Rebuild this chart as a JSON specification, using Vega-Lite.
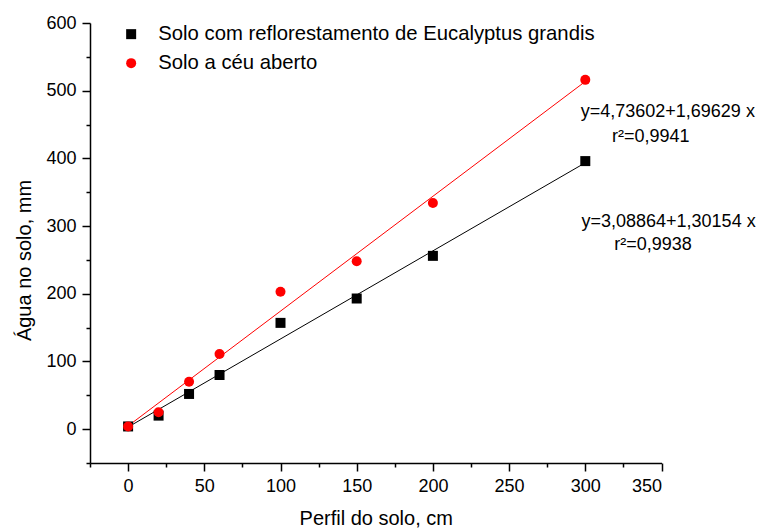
{
  "$schema": "https://vega.github.io/schema/vega-lite/v6.json",
  "autosize": "none",
  "width": 571.5,
  "height": 440,
  "padding": {"left": 90, "top": 23, "right": 98.5, "bottom": 65},
  "background": "white",
  "config": {
    "view": {"stroke": null},
    "font": "Liberation Sans",
    "axis": {
      "grid": false,
      "domainColor": "black",
      "domainWidth": 1.5,
      "tickColor": "black",
      "tickWidth": 1.5,
      "labelColor": "black",
      "labelFont": "Liberation Sans",
      "labelFontSize": 18,
      "titleFont": "Liberation Sans",
      "titleFontSize": 20,
      "titleFontWeight": "normal",
      "titleColor": "black"
    },
    "legend": {
      "labelFont": "Liberation Sans",
      "labelFontSize": 20.3,
      "labelColor": "black",
      "labelLimit": 1000,
      "padding": 0
    }
  },
  "resolve": {"axis": {"x": "independent", "y": "independent"}},
  "datasets": {
    "pts": [
      {"perfil": 0, "agua": 4, "serie": "Solo com reflorestamento de Eucalyptus grandis"},
      {"perfil": 20, "agua": 20, "serie": "Solo com reflorestamento de Eucalyptus grandis"},
      {"perfil": 40, "agua": 52, "serie": "Solo com reflorestamento de Eucalyptus grandis"},
      {"perfil": 60, "agua": 80, "serie": "Solo com reflorestamento de Eucalyptus grandis"},
      {"perfil": 100, "agua": 157, "serie": "Solo com reflorestamento de Eucalyptus grandis"},
      {"perfil": 150, "agua": 193, "serie": "Solo com reflorestamento de Eucalyptus grandis"},
      {"perfil": 200, "agua": 256, "serie": "Solo com reflorestamento de Eucalyptus grandis"},
      {"perfil": 300, "agua": 396, "serie": "Solo com reflorestamento de Eucalyptus grandis"},
      {"perfil": 0, "agua": 4, "serie": "Solo a céu aberto"},
      {"perfil": 20, "agua": 25, "serie": "Solo a céu aberto"},
      {"perfil": 40, "agua": 70, "serie": "Solo a céu aberto"},
      {"perfil": 60, "agua": 111, "serie": "Solo a céu aberto"},
      {"perfil": 100, "agua": 203, "serie": "Solo a céu aberto"},
      {"perfil": 150, "agua": 248, "serie": "Solo a céu aberto"},
      {"perfil": 200, "agua": 334, "serie": "Solo a céu aberto"},
      {"perfil": 300, "agua": 516, "serie": "Solo a céu aberto"}
    ],
    "fit": [
      {"perfil": 0, "agua": 3.09, "serie": "E"},
      {"perfil": 300, "agua": 393.55, "serie": "E"},
      {"perfil": 0, "agua": 4.74, "serie": "C"},
      {"perfil": 300, "agua": 513.62, "serie": "C"}
    ],
    "notes": [
      {"px": 297, "py": 469, "txt": "y=4,73602+1,69629 x"},
      {"px": 317.5, "py": 432, "txt": "r²=0,9941"},
      {"px": 297.5, "py": 306.6, "txt": "y=3,08864+1,30154 x"},
      {"px": 319, "py": 272, "txt": "r²=0,9938"}
    ]
  },
  "layer": [
    {
      "data": {"name": "fit"},
      "transform": [{"filter": "datum.serie === 'E'"}],
      "mark": {"type": "line", "color": "black", "strokeWidth": 1},
      "encoding": {
        "x": {"field": "perfil", "type": "quantitative", "scale": {"domain": [-25, 350], "nice": false, "zero": false},
          "axis": {"title": "Perfil do solo, cm", "orient": "bottom", "values": [0, 50, 100, 150, 200, 250, 300, 350],
            "tickSize": 8, "labelPadding": 6, "titlePadding": 13}},
        "y": {"field": "agua", "type": "quantitative", "scale": {"domain": [-50, 600], "nice": false, "zero": false},
          "axis": {"title": "Água no solo, mm", "orient": "left", "values": [0, 100, 200, 300, 400, 500, 600],
            "tickSize": 8, "labelPadding": 6, "titlePadding": 11, "titleY": 237}}
      }
    },
    {
      "data": {"name": "fit"},
      "transform": [{"filter": "datum.serie === 'C'"}],
      "mark": {"type": "line", "color": "red", "strokeWidth": 1},
      "encoding": {
        "x": {"field": "perfil", "type": "quantitative",
          "axis": {"title": null, "orient": "bottom", "values": [-25, 25, 75, 125, 175, 225, 275, 325], "labels": false, "domain": false, "tickSize": 4}},
        "y": {"field": "agua", "type": "quantitative",
          "axis": {"title": null, "orient": "left", "values": [-50, 50, 150, 250, 350, 450, 550], "labels": false, "domain": false, "tickSize": 4}}
      }
    },
    {
      "data": {"name": "pts"},
      "mark": {"type": "point", "filled": true, "opacity": 1, "strokeWidth": 0},
      "encoding": {
        "x": {"field": "perfil", "type": "quantitative", "axis": null},
        "y": {"field": "agua", "type": "quantitative", "axis": null},
        "color": {"field": "serie", "type": "nominal",
          "scale": {"domain": ["Solo com reflorestamento de Eucalyptus grandis", "Solo a céu aberto"], "range": ["black", "red"]},
          "legend": {"title": null, "orient": "none", "legendX": 31, "legendY": 1, "labelOffset": 17, "rowPadding": 8, "symbolSize": 100, "symbolStrokeWidth": 0}},
        "shape": {"field": "serie", "type": "nominal",
          "scale": {"domain": ["Solo com reflorestamento de Eucalyptus grandis", "Solo a céu aberto"], "range": ["square", "circle"]},
          "legend": {"title": null, "orient": "none", "legendX": 31, "legendY": 1, "labelOffset": 17, "rowPadding": 8, "symbolSize": 100, "symbolStrokeWidth": 0}},
        "size": {"field": "serie", "type": "nominal",
          "scale": {"domain": ["Solo com reflorestamento de Eucalyptus grandis", "Solo a céu aberto"], "range": [100, 100]},
          "legend": null}
      }
    },
    {
      "data": {"name": "notes"},
      "mark": {"type": "text", "align": "left", "baseline": "middle", "fontSize": 18, "font": "Liberation Sans", "color": "black"},
      "encoding": {
        "x": {"field": "px", "type": "quantitative", "axis": null},
        "y": {"field": "py", "type": "quantitative", "axis": null},
        "text": {"field": "txt"}
      }
    }
  ]
}
